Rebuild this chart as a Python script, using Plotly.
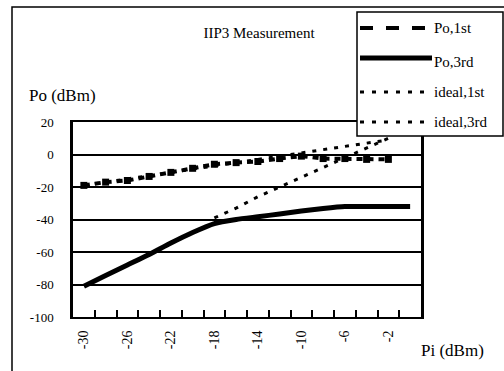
import plotly.graph_objects as go

# ---- data ----
pi_cat = [-30, -28, -26, -24, -22, -20, -18, -16, -14, -12, -10, -8, -6, -4, -2, 0]
po_1st = [-19, -17, -16, -13.5, -11, -8.5, -6, -5, -4.3, -2.5, -1, -2.5, -2.5, -3, -3]
po_3rd = [-81, -74.5, -68, -61.5, -54.5, -48, -42.5, -40, -38.3, -36.6, -34.8, -33.2, -32, -32, -32, -32]
ideal_1st = [-19, -17, -15, -13, -11, -9, -7, -5, -3, -1, 1, 3, 5, 7, 9]
pi_3rd_ideal = [-18, -16, -14, -12, -10, -8, -6, -4, -2]
ideal_3rd = [-39, -33, -26, -20, -14, -8, -2, 4, 10]

x_labels = [-30, -26, -22, -18, -14, -10, -6, -2]
x_minor = [-29, -27, -25, -23, -21, -19, -17, -15, -13, -11, -9, -7, -5, -3, -1]
y_ticks = [20, 0, -20, -40, -60, -80, -100]

names = ["Po,1st", "Po,3rd", "ideal,1st", "ideal,3rd"]

W, H = 504, 371
L, R, T, B = 73, 83, 122, 54
PW, PH = W - L - R, H - T - B


def px(x):
    return (x - L) / PW


def py(y):
    return (H - B - y) / PH


SERIF = "Liberation Serif"

fig = go.Figure()
fig.add_trace(go.Scatter(x=pi_cat[:len(po_1st)], y=po_1st, mode="lines+markers", name=names[0],
                         line=dict(color="black", width=4, dash="6px,5px"),
                         marker=dict(symbol="square", size=7, color="black")))
fig.add_trace(go.Scatter(x=pi_cat, y=po_3rd, mode="lines", name=names[1],
                         line=dict(color="black", width=5, shape="spline", smoothing=0.6)))
fig.add_trace(go.Scatter(x=pi_cat[:len(ideal_1st)], y=ideal_1st, mode="lines", name=names[2],
                         line=dict(color="black", width=3, dash="4px,7px")))
fig.add_trace(go.Scatter(x=pi_3rd_ideal, y=ideal_3rd, mode="lines", name=names[3],
                         line=dict(color="black", width=3, dash="4px,7px")))

shapes = []
# outer chart frame
shapes.append(dict(type="rect", xref="paper", yref="paper",
                   x0=px(12), x1=px(520), y0=py(390), y1=py(7),
                   line=dict(color="black", width=1.5), fillcolor="rgba(0,0,0,0)", layer="below"))
# legend box
shapes.append(dict(type="rect", xref="paper", yref="paper",
                   x0=px(357), x1=px(503), y0=py(136), y1=py(12),
                   line=dict(color="black", width=1.5), fillcolor="white", layer="above"))
leg_y = [28, 58, 92, 122]
leg_styles = [dict(color="black", width=4, dash="13px,13px"),
              dict(color="black", width=5),
              dict(color="black", width=3, dash="4px,8px"),
              dict(color="black", width=3, dash="4px,8px")]
for yy, st in zip(leg_y, leg_styles):
    shapes.append(dict(type="line", xref="paper", yref="paper",
                       x0=px(360), x1=px(432), y0=py(yy), y1=py(yy), line=st, layer="above"))

annotations = []
leg_text_y = [28, 62, 92, 122]
for nm, yy in zip(names, leg_text_y):
    annotations.append(dict(text=nm, xref="paper", yref="paper", x=px(432), y=py(yy),
                            xanchor="left", yanchor="middle", showarrow=False,
                            font=dict(family=SERIF, size=15, color="black")))
annotations.append(dict(text="Po (dBm)", xref="paper", yref="paper", x=px(27), y=py(95),
                        xanchor="left", yanchor="middle", showarrow=False,
                        font=dict(family=SERIF, size=17, color="black")))
annotations.append(dict(text="Pi (dBm)", xref="paper", yref="paper", x=px(419), y=py(350),
                        xanchor="left", yanchor="middle", showarrow=False,
                        font=dict(family=SERIF, size=17, color="black")))

fig.update_layout(
    width=W, height=H,
    margin=dict(l=L, r=R, t=T, b=B),
    paper_bgcolor="white", plot_bgcolor="white",
    showlegend=False,
    font=dict(family=SERIF, color="black"),
    title=dict(text="IIP3 Measurement", x=px(259), xref="paper", xanchor="center",
               y=1 - 33 / H, yanchor="middle",
               font=dict(family=SERIF, size=15, color="black")),
    shapes=shapes, annotations=annotations,
    xaxis=dict(range=[-31, 1], tickmode="array", tickvals=x_labels,
               ticktext=[str(v) for v in x_labels], tickangle=-90,
               ticks="", showgrid=False, zeroline=False,
               showline=True, linecolor="black", linewidth=2, mirror=True,
               ticklabelstandoff=6,
               tickfont=dict(family=SERIF, size=14, color="black"),
               minor=dict(tickmode="array", tickvals=x_minor, ticks="inside",
                          ticklen=7, tickwidth=1.5, tickcolor="black", showgrid=False)),
    yaxis=dict(range=[-100, 20], tickmode="array", tickvals=y_ticks,
               ticktext=[str(v) for v in y_ticks],
               ticks="", showgrid=True, gridcolor="black", gridwidth=1.5,
               zeroline=False, showline=True, linecolor="black", linewidth=2.5,
               mirror=True, ticklabelstandoff=14,
               tickfont=dict(family=SERIF, size=13, color="black")),
)

fig.write_html("out.html")
